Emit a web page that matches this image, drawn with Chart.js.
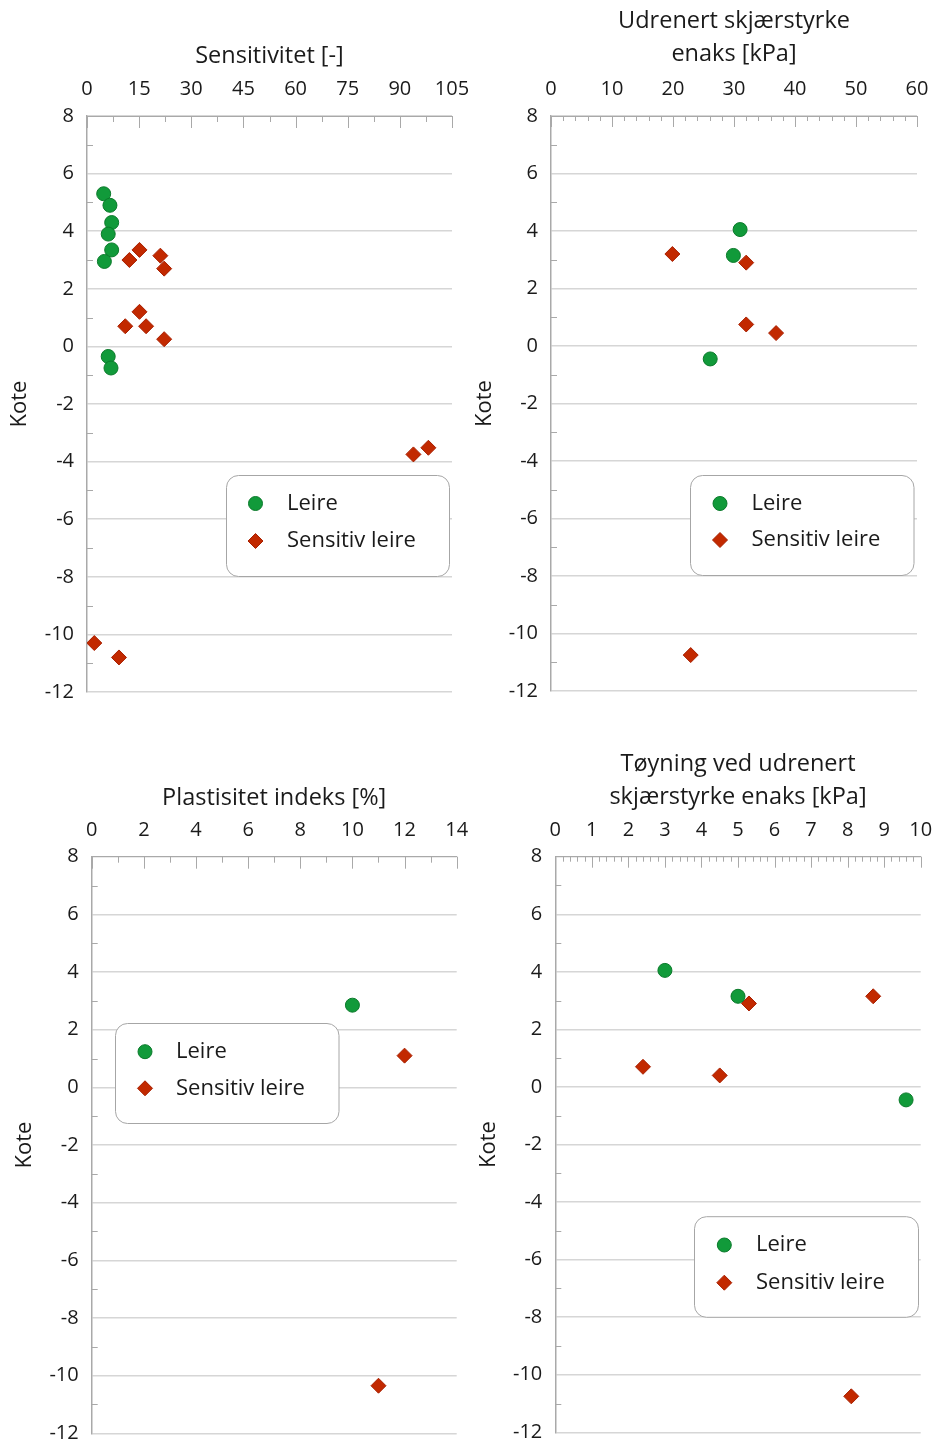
<!DOCTYPE html>
<html>
<head>
<meta charset="utf-8">
<script src="https://cdn.jsdelivr.net/npm/chart.js@4.4.1/dist/chart.umd.min.js"></script>
<style>
  html, body { margin: 0; padding: 0; background: #ffffff; }
  #wrap { position: relative; width: 933px; height: 1443px; overflow: hidden; }
  .cv { position: absolute; }
</style>
</head>
<body>
<div id="wrap">
  <div class="cv" style="left:0px;top:0px;width:480px;height:720px;"><canvas id="c1"></canvas></div>
  <div class="cv" style="left:466px;top:0px;width:467px;height:720px;"><canvas id="c2"></canvas></div>
  <div class="cv" style="left:0px;top:720px;width:480px;height:723px;"><canvas id="c3"></canvas></div>
  <div class="cv" style="left:466px;top:720px;width:467px;height:723px;"><canvas id="c4"></canvas></div>
</div>
<script>
// ---------------- DATA ----------------
const seriesNames = ["Leire", "Sensitiv leire"];
const yAxisTitle = "Kote";

// Chart 1: Sensitivitet [-]
const sens_title = "Sensitivitet [-]";
const sens_leire_x = [4.8, 6.6, 7.1, 6.1, 7.1, 5.0, 6.1, 6.9];
const sens_leire_y = [5.3, 4.9, 4.3, 3.9, 3.35, 2.95, -0.35, -0.75];
const sens_sens_x = [12.2, 15.1, 21.1, 22.2, 15.1, 11.0, 17.0, 22.2, 93.9, 98.2, 2.1, 9.2];
const sens_sens_y = [3.0, 3.35, 3.15, 2.7, 1.2, 0.7, 0.7, 0.25, -3.75, -3.52, -10.3, -10.8];
const sens_xticks = [0, 15, 30, 45, 60, 75, 90, 105];

// Chart 2: Udrenert skjærstyrke enaks [kPa]
const cu_title = ["Udrenert skjærstyrke", "enaks [kPa]"];
const cu_leire_x = [31.0, 29.9, 26.1];
const cu_leire_y = [4.05, 3.15, -0.45];
const cu_sens_x = [19.9, 32.0, 32.0, 36.9, 22.9];
const cu_sens_y = [3.2, 2.9, 0.75, 0.45, -10.75];
const cu_xticks = [0, 10, 20, 30, 40, 50, 60];

// Chart 3: Plastisitet indeks [%]
const ip_title = "Plastisitet indeks [%]";
const ip_leire_x = [10.0];
const ip_leire_y = [2.85];
const ip_sens_x = [12.0, 11.0];
const ip_sens_y = [1.1, -10.35];
const ip_xticks = [0, 2, 4, 6, 8, 10, 12, 14];

// Chart 4: Tøyning ved udrenert skjærstyrke enaks [kPa]
const eps_title = ["Tøyning ved udrenert", "skjærstyrke enaks [kPa]"];
const eps_leire_x = [3.0, 5.0, 9.6];
const eps_leire_y = [4.05, 3.15, -0.45];
const eps_sens_x = [5.3, 8.7, 2.4, 4.5, 8.1];
const eps_sens_y = [2.9, 3.15, 0.7, 0.4, -10.75];
const eps_xticks = [0, 1, 2, 3, 4, 5, 6, 7, 8, 9, 10];

const yTicks = [-12, -10, -8, -6, -4, -2, 0, 2, 4, 6, 8];

// ---------------- STYLE ----------------
const FONT = "'Open Sans', Lato, 'DejaVu Sans', sans-serif";
const TXT = "#1a1a1a";
const GREEN = "#119a3a", GREEN_B = "#0b7a2b";
const RED = "#c22900", RED_B = "#a82000";
const AXIS = "#a9a9a9", GRID = "#d6d6d6";
const TICK_SIZE = 20, TITLE_SIZE = 23.5, LEG_SIZE = 22, YTITLE_SIZE = 22;

function pts(xs, ys) { return xs.map((x, i) => ({ x: x, y: ys[i] })); }

const insideTicks = {
  id: 'insideTicks',
  beforeDatasetsDraw(chart, args, opts) {
    const ctx = chart.ctx, a = chart.chartArea;
    const xs = chart.scales.x, ys = chart.scales.y;
    ctx.save();
    ctx.strokeStyle = AXIS;
    ctx.lineWidth = 1;
    const xmin = xs.min, xmax = xs.max;
    const nMinor = Math.round((xmax - xmin) / opts.minorStep);
    for (let i = 0; i <= nMinor; i++) {
      const v = xmin + i * opts.minorStep;
      const q = (v - xmin) / opts.majorStep;
      const isMajor = Math.abs(q - Math.round(q)) < 1e-6;
      const px = Math.round(xs.getPixelForValue(v)) + 0.5;
      ctx.beginPath();
      ctx.moveTo(px, a.top);
      ctx.lineTo(px, a.top + (isMajor ? opts.majorLen : opts.minorLen));
      ctx.stroke();
    }
    for (let v = -11; v <= 7; v += 2) {
      const py = Math.round(ys.getPixelForValue(v)) + 0.5;
      ctx.beginPath();
      ctx.moveTo(a.left, py);
      ctx.lineTo(a.left + 6, py);
      ctx.stroke();
    }
    ctx.restore();
  }
};

function drawMarker(ctx, style, x, y, fill, border) {
  ctx.save();
  ctx.fillStyle = fill; ctx.strokeStyle = border; ctx.lineWidth = 1;
  ctx.beginPath();
  if (style === 'circle') {
    ctx.arc(x, y, 7, 0, Math.PI * 2);
  } else {
    ctx.moveTo(x, y - 7.5); ctx.lineTo(x + 7.5, y); ctx.lineTo(x, y + 7.5); ctx.lineTo(x - 7.5, y); ctx.closePath();
  }
  ctx.fill(); ctx.stroke();
  ctx.restore();
}

const boxLegend = {
  id: 'boxLegend',
  afterDatasetsDraw(chart, args, o) {
    const ctx = chart.ctx;
    ctx.save();
    const r = 12, x = o.x, y = o.y, w = o.w, h = o.h;
    ctx.beginPath();
    ctx.moveTo(x + r, y);
    ctx.lineTo(x + w - r, y); ctx.arcTo(x + w, y, x + w, y + r, r);
    ctx.lineTo(x + w, y + h - r); ctx.arcTo(x + w, y + h, x + w - r, y + h, r);
    ctx.lineTo(x + r, y + h); ctx.arcTo(x, y + h, x, y + h - r, r);
    ctx.lineTo(x, y + r); ctx.arcTo(x, y, x + r, y, r);
    ctx.closePath();
    ctx.fillStyle = '#ffffff'; ctx.fill();
    ctx.strokeStyle = '#a6a6a6'; ctx.lineWidth = 1; ctx.stroke();
    const ds = chart.data.datasets;
    ctx.font = LEG_SIZE + "px " + FONT;
    ctx.textBaseline = 'middle';
    ctx.textAlign = 'left';
    ds.forEach((d, i) => {
      const my = o.rowY[i];
      drawMarker(ctx, d.pointStyle === 'circle' ? 'circle' : 'diamond', o.mx, my, d.backgroundColor, d.borderColor);
      ctx.fillStyle = TXT;
      ctx.fillText(d.label, o.tx, my);
    });
    ctx.restore();
  }
};

function makeChart(id, cfg) {
  const ctx = document.getElementById(id);
  return new Chart(ctx, {
    type: 'scatter',
    data: {
      datasets: [
        { label: seriesNames[0], data: pts(cfg.lx, cfg.ly), pointStyle: 'circle', pointRadius: 7, pointHoverRadius: 7,
          backgroundColor: GREEN, borderColor: GREEN_B, borderWidth: 1 },
        { label: seriesNames[1], data: pts(cfg.sx, cfg.sy), pointStyle: 'rectRot', pointRadius: 7.5, pointHoverRadius: 7.5,
          backgroundColor: RED, borderColor: RED_B, borderWidth: 1 }
      ]
    },
    options: {
      responsive: true, maintainAspectRatio: false, animation: false,
      layout: { padding: { left: 0, top: 0, right: cfg.padR, bottom: cfg.padB } },
      plugins: {
        legend: { display: false }, tooltip: { enabled: false },
        insideTicks: { minorStep: cfg.minorStep, majorStep: cfg.majorStep, majorLen: cfg.majorLen, minorLen: cfg.minorLen },
        boxLegend: cfg.legend
      },
      scales: {
        x: {
          type: 'linear', position: 'top', min: cfg.xmin, max: cfg.xmax,
          afterBuildTicks: (s) => { s.ticks = cfg.xticks.map(v => ({ value: v })); },
          ticks: { color: TXT, font: { family: FONT, size: TICK_SIZE }, padding: cfg.xTickPad, maxRotation: 0, autoSkip: false },
          grid: { display: false, drawTicks: false },
          border: { display: true, color: AXIS, width: 1 },
          title: { display: true, text: cfg.title, color: TXT, font: { family: FONT, size: TITLE_SIZE, lineHeight: cfg.titleLH }, padding: { top: cfg.titlePad, bottom: 0 } },
          afterFit: (s) => { s.height = cfg.xH; s.paddingLeft = 0; s.paddingRight = 0; }
        },
        y: {
          type: 'linear', position: 'left', min: -12, max: 8,
          afterBuildTicks: (s) => { s.ticks = yTicks.map(v => ({ value: v })); },
          ticks: { color: TXT, font: { family: FONT, size: TICK_SIZE }, padding: cfg.yTickPad },
          grid: { color: GRID, lineWidth: 1.5, drawTicks: false },
          border: { display: true, color: AXIS, width: 1.5 },
          title: { display: true, text: yAxisTitle, color: TXT, font: { family: FONT, size: YTITLE_SIZE }, padding: { top: cfg.yTitlePad, bottom: 0 } },
          afterFit: (s) => { s.width = cfg.yW; s.paddingTop = 0; s.paddingBottom = 0; }
        }
      }
    },
    plugins: [insideTicks, boxLegend]
  });
}

makeChart('c1', {
  lx: sens_leire_x, ly: sens_leire_y, sx: sens_sens_x, sy: sens_sens_y,
  xmin: 0, xmax: 105, xticks: sens_xticks, minorStep: 7.5, majorStep: 15, majorLen: 12, minorLen: 6,
  title: sens_title, titleLH: 1.2, titlePad: 42, xTickPad: 15, xH: 116,
  yW: 87, yTickPad: 13, yTitlePad: 7, padR: 28, padB: 28,
  legend: { x: 226.5, y: 475.5, w: 223, h: 101, mx: 255.5, tx: 287, rowY: [503.5, 541] }
});

makeChart('c2', {
  lx: cu_leire_x, ly: cu_leire_y, sx: cu_sens_x, sy: cu_sens_y,
  xmin: 0, xmax: 60, xticks: cu_xticks, minorStep: 2, majorStep: 10, majorLen: 11, minorLen: 5,
  title: cu_title, titleLH: '33px', titlePad: 5, xTickPad: 15, xH: 116,
  yW: 85, yTickPad: 13, yTitlePad: 6, padR: 16, padB: 29,
  legend: { x: 690.5 - 466, y: 475.5, w: 223.5, h: 100, mx: 720 - 466, tx: 751.5 - 466, rowY: [503.5, 540] }
});

makeChart('c3', {
  lx: ip_leire_x, ly: ip_leire_y, sx: ip_sens_x, sy: ip_sens_y,
  xmin: 0, xmax: 14, xticks: ip_xticks, minorStep: 1, majorStep: 2, majorLen: 12, minorLen: 6,
  title: ip_title, titleLH: 1.2, titlePad: 64, xTickPad: 14, xH: 136.7,
  yW: 91.7, yTickPad: 13, yTitlePad: 12, padR: 23.3, padB: 9.7,
  legend: { x: 115.5, y: 1023.5 - 720, w: 223.5, h: 100, mx: 145, tx: 176, rowY: [1051.7 - 720, 1088.3 - 720] }
});

makeChart('c4', {
  lx: eps_leire_x, ly: eps_leire_y, sx: eps_sens_x, sy: eps_sens_y,
  xmin: 0, xmax: 10, xticks: eps_xticks, minorStep: 0.2, majorStep: 1, majorLen: 11, minorLen: 5,
  title: eps_title, titleLH: '33.3px', titlePad: 27.5, xTickPad: 14, xH: 136.7,
  yW: 89.3, yTickPad: 13, yTitlePad: 10, padR: 12.3, padB: 10.7,
  legend: { x: 694.5 - 466, y: 1216.7 - 720, w: 224, h: 100.6, mx: 724.3 - 466, tx: 756 - 466, rowY: [1245 - 720, 1282.7 - 720] }
});
</script>
</body>
</html>
